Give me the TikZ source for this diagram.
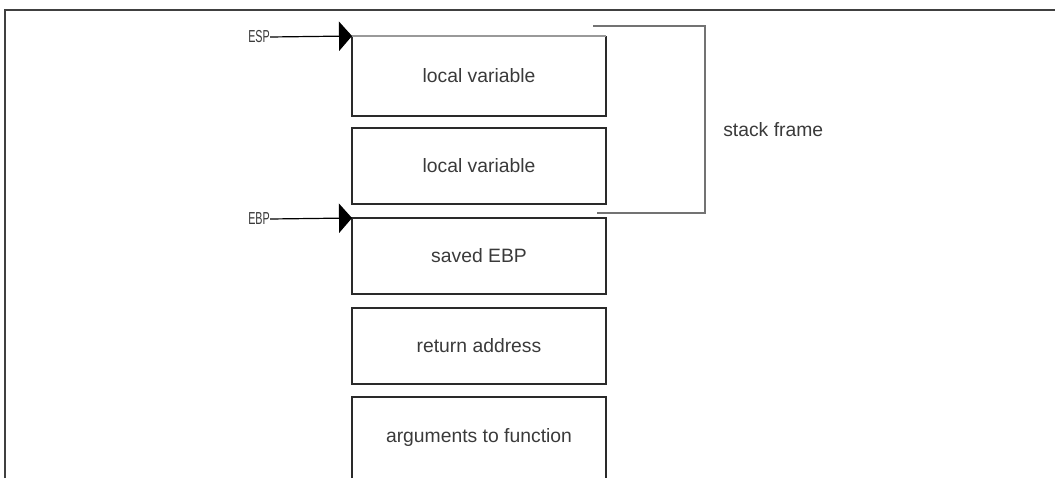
\documentclass[tikz,border=0pt]{standalone}
\usepackage{fontspec}
\setmainfont{Liberation Sans}
\usetikzlibrary{arrows.meta}
\definecolor{txt}{HTML}{3A3A3A}
\definecolor{edge}{HTML}{2A2A2A}
\tikzset{
  cell/.style={minimum width=190.5pt, minimum height=57pt, inner sep=0pt, outer sep=0pt, text=txt, font=\fontsize{14.5}{16}\selectfont},
  cellline/.style={draw=edge, line width=1.1pt},
  reglabel/.style={inner sep=0pt, text=txt, font=\fontsize{13}{14}\selectfont},
  pointer/.style={draw=black, line width=0.9pt, -{Triangle[length=9.75pt,width=22pt]}},
  bracket/.style={draw=black!55, line width=0.8pt},
  frameline/.style={draw=black!75, line width=1.6pt}
}
\begin{document}
\begin{tikzpicture}[x=0.75pt,y=-0.75pt]
\useasboundingbox (0,0) rectangle (1055,478);
% outer frame
\coordinate (fbl) at (5,478);
\coordinate (ftl) at (5,10);
\coordinate (ftr) at (1055,10);
\draw[frameline] (fbl) -- (ftl) -- (ftr);

% stack cells
\node[cell, minimum height=60pt] (b1) at (479,76) {local variable};
\draw[cellline] (b1.north west) -- (b1.south west) -- (b1.south east) -- (b1.north east);
\draw[draw=black!40, line width=0.8pt] (b1.north west) -- (b1.north east);
\node[cell] (b2) at (479,166) {local variable};
\draw[cellline] (b2.north west) rectangle (b2.south east);
\node[cell] (b3) at (479,256) {saved EBP};
\draw[cellline] (b3.north west) rectangle (b3.south east);
\node[cell] (b4) at (479,346) {return address};
\draw[cellline] (b4.north west) rectangle (b4.south east);
\node[cell, minimum height=60.75pt] (b5) at (479,437.5) {arguments to function};
\draw[cellline] (b5.south west) -- (b5.north west) -- (b5.north east) -- (b5.south east);

% register pointers
\node[reglabel] (esp) at (259,37) {\scalebox{0.62}[1]{ESP}};
\node[reglabel] (ebp) at (259,219) {\scalebox{0.62}[1]{EBP}};
\draw[pointer] (esp.east) -- (b1.north west);
\draw[pointer] (ebp.east) -- (b3.north west);

% stack frame bracket
\coordinate (sft) at (593,26);
\coordinate (sfc) at (705,26);
\coordinate (sfd) at (705,213);
\coordinate (sfb) at (597,213);
\draw[bracket] (sft) -- (sfc) -- (sfd) -- (sfb);
\node[anchor=west, inner sep=0pt, text=txt, font=\fontsize{14.5}{16}\selectfont] (sf) at (723,130) {stack frame};
\end{tikzpicture}
\end{document}
